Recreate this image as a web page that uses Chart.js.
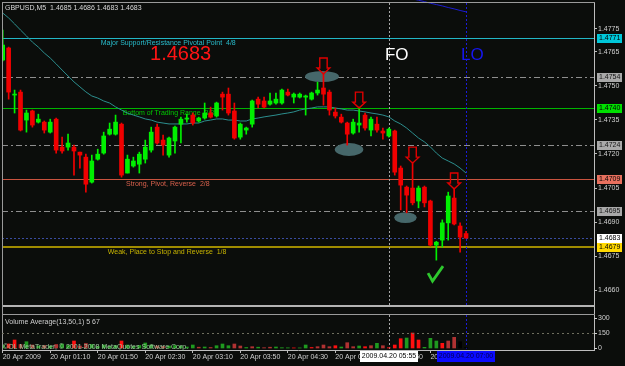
<!DOCTYPE html>
<html><head><meta charset="utf-8">
<script src="https://cdn.jsdelivr.net/npm/chart.js@4.4.1/dist/chart.umd.min.js"></script>
<style>html,body{margin:0;padding:0;background:#0b0d0b;}canvas{display:block;}</style>
</head><body>
<canvas id="c" width="625" height="366"></canvas>
<script>
// ---------------- data ----------------
const chartTitle = "GBPUSD,M5  1.4685 1.4686 1.4683 1.4683";
const volumeTitle = "Volume Average(13,50,1) 5 67";
const copyrightText = "\u00A9OL MetaTrader, \u00A9 2001-2008 MetaQuotes Software Corp.";

const timeTickBars = [0, 8, 16, 24, 32, 40, 48, 56, 64, 72];
const timeTickLabels = ["20 Apr 2009","20 Apr 01:10","20 Apr 01:50","20 Apr 02:30","20 Apr 03:10",
  "20 Apr 03:50","20 Apr 04:30","20 Apr 05:10","20 Apr 05:50","20 Apr 06:30"];
const priceTicks = [1.4775, 1.4765, 1.4750, 1.4735, 1.4720, 1.4705, 1.4690, 1.4675, 1.4660];
const volumeTicks = [0, 150, 300];

const opens = [1.47613,1.47666,1.47459,1.47472,1.47349,1.47389,1.47340,1.47340,1.47296,1.47353,
 1.47230,1.47230,1.47230,1.47208,1.47186,1.47076,1.47177,1.47204,1.47287,1.47287,
 1.47331,1.47116,1.47147,1.47155,1.47177,1.47217,1.47318,1.47261,1.47195,1.47257,
 1.47331,1.47353,1.47371,1.47345,1.47358,1.47380,1.47367,1.47463,1.47463,1.47389,
 1.47274,1.47305,1.47331,1.47441,1.47433,1.47419,1.47424,1.47424,1.47472,1.47450,
 1.47450,1.47450,1.47441,1.47468,1.47490,1.47472,1.47384,1.47362,1.47336,1.47292,
 1.47327,1.47371,1.47305,1.47331,1.47301,1.47279,1.47301,1.47138,1.47054,1.47050,
 1.46993,1.47054,1.46993,1.46799,1.46821,1.46897,1.47006,1.46883,1.46850];
const highs = [1.47745,1.47670,1.47481,1.47481,1.47393,1.47393,1.47375,1.47345,1.47353,1.47358,
 1.47274,1.47287,1.47239,1.47208,1.47199,1.47195,1.47221,1.47296,1.47336,1.47371,
 1.47336,1.47195,1.47186,1.47208,1.47261,1.47318,1.47331,1.47283,1.47274,1.47323,
 1.47362,1.47375,1.47380,1.47362,1.47424,1.47406,1.47428,1.47472,1.47490,1.47424,
 1.47336,1.47318,1.47437,1.47450,1.47450,1.47468,1.47468,1.47485,1.47485,1.47468,
 1.47468,1.47459,1.47472,1.47516,1.47556,1.47481,1.47402,1.47375,1.47340,1.47353,
 1.47406,1.47380,1.47362,1.47362,1.47314,1.47314,1.47305,1.47147,1.47059,1.47164,
 1.47059,1.47059,1.46997,1.46816,1.46910,1.47032,1.47050,1.46897,1.46860];
const lows = [1.47609,1.47441,1.47380,1.47301,1.47296,1.47318,1.47336,1.47292,1.47292,1.47204,
 1.47204,1.47217,1.47107,1.47138,1.47032,1.47072,1.47173,1.47199,1.47283,1.47283,
 1.47098,1.47116,1.47142,1.47116,1.47160,1.47208,1.47243,1.47195,1.47186,1.47204,
 1.47248,1.47340,1.47327,1.47340,1.47353,1.47358,1.47362,1.47393,1.47371,1.47265,
 1.47265,1.47287,1.47318,1.47402,1.47402,1.47415,1.47419,1.47419,1.47455,1.47424,
 1.47446,1.47371,1.47437,1.47459,1.47415,1.47371,1.47358,1.47336,1.47239,1.47287,
 1.47296,1.47305,1.47279,1.47296,1.47265,1.47274,1.47107,1.46954,1.46941,1.46976,
 1.46963,1.46967,1.46795,1.46733,1.46790,1.46821,1.46888,1.46768,1.46830];
const closes = [1.47679,1.47472,1.47463,1.47305,1.47380,1.47327,1.47353,1.47305,1.47340,1.47217,
 1.47213,1.47248,1.47213,1.47195,1.47067,1.47169,1.47199,1.47279,1.47309,1.47340,
 1.47107,1.47177,1.47169,1.47199,1.47230,1.47296,1.47248,1.47239,1.47270,1.47318,
 1.47353,1.47358,1.47336,1.47358,1.47380,1.47362,1.47424,1.47450,1.47380,1.47270,
 1.47331,1.47314,1.47433,1.47419,1.47406,1.47433,1.47441,1.47481,1.47459,1.47463,
 1.47463,1.47455,1.47468,1.47481,1.47463,1.47393,1.47367,1.47340,1.47287,1.47340,
 1.47336,1.47314,1.47353,1.47305,1.47292,1.47309,1.47120,1.47063,1.47019,1.46985,
 1.47050,1.46985,1.46799,1.46812,1.46897,1.47015,1.46892,1.46834,1.46830];

const maValues = [1.47820,1.47798,1.47772,1.47745,1.47719,1.47692,1.47670,1.47644,1.47622,1.47596,
 1.47569,1.47543,1.47517,1.47495,1.47473,1.47455,1.47446,1.47433,1.47424,1.47407,
 1.47393,1.47380,1.47371,1.47363,1.47354,1.47349,1.47340,1.47336,1.47332,1.47332,
 1.47332,1.47332,1.47336,1.47336,1.47345,1.47349,1.47354,1.47354,1.47349,1.47349,
 1.47345,1.47345,1.47354,1.47358,1.47363,1.47367,1.47371,1.47376,1.47380,1.47385,
 1.47393,1.47398,1.47402,1.47407,1.47407,1.47407,1.47402,1.47398,1.47393,1.47393,
 1.47389,1.47385,1.47380,1.47376,1.47371,1.47363,1.47345,1.47332,1.47314,1.47292,
 1.47270,1.47253,1.47231,1.47204,1.47182,1.47169,1.47156,1.47138,1.47116];
const slowMaBars = [69, 70, 71, 72, 73, 74, 75, 76, 77, 78];
const slowMaValues = [1.47882,1.47876,1.47870,1.47863,1.47857,1.47851,1.47844,1.47838,1.47831,1.47825];

const volumes = [30,40,80,35,63,30,20,25,20,35,40,25,70,20,45,35,15,30,15,25,
 70,30,15,25,50,30,20,15,20,25,20,10,30,8,10,5,23,40,23,40,
 20,5,13,8,3,8,10,3,2,1,1,30,5,13,30,13,23,10,53,13,
 20,13,23,47,23,3,30,93,100,150,80,7,97,70,47,70,107,63,5];
const volumeTone = "gRRrgrgrgrggRrrgggggRggggg" + "rrgggggrgrgggrrgrgrrgggRggRrrrRgrrgRrgrRRRgRRgggRrr";

const levelPrices = [1.4771, 1.4754, 1.4740, 1.4724, 1.4709, 1.4695, 1.4683, 1.4679];
const captionTexts = ["Major Support/Resistance Pivotal Point  4/8", "Bottom of Trading Range  3/8",
  "Strong, Pivot, Reverse  2/8", "Weak, Place to Stop and Reverse  1/8"];
const captionBars = [16.5, 20.2, 20.75, 17.7];
const captionPrices = [1.4771, 1.4740, 1.4709, 1.4679];

const vlineBars = [65, 78];
const vlineLabels = ["2009.04.20 05:55", "2009.04.20 07:00"];
const arrowBars = [54, 60, 69, 76];
const ellipseBars = [[50.9, 56.6], [55.9, 60.7], [65.9, 69.7]];
const ellipsePrices = [[1.47565, 1.47516], [1.47248, 1.47191], [1.46944, 1.46896]];
const bigTexts = ["1.4683", "FO", "LO"];
const bigTextBars = [24.8, 64.35, 77.15];
const bigTextPrices = [1.47613, 1.47613, 1.47613];
const checkBar = 71.6, checkPrice = 1.46676;
const mainPanelMin = 1.46532, volPanelMax = 340;

// ---------------- styles ----------------
const BG = '#0b0d0b';
const FONT = "'Liberation Sans', Arial, sans-serif";
const BULL = '#00f000', BEAR = '#f00000';
const toneColors = { g: '#1f9a1f', R: '#ff1010', r: '#b03232' };
const levelStyles = [
  { color: '#22b6c6', width: 1, dash: [], box: '#00c8da', text: '#000' },
  { color: '#8e8e8e', width: 1, dash: [6,3,2,3], box: '#a9a9a9', text: '#151515' },
  { color: '#00b400', width: 1, dash: [], box: '#00e000', text: '#000' },
  { color: '#8e8e8e', width: 1, dash: [6,3,2,3], box: '#a9a9a9', text: '#151515' },
  { color: '#c9533f', width: 1, dash: [], box: '#e8705e', text: '#000' },
  { color: '#8e8e8e', width: 1, dash: [6,3,2,3], box: '#a9a9a9', text: '#151515' },
  { color: '#3a4ca0', width: 1, dash: [2,2], box: '#ffffff', text: '#000' },
  { color: '#a08c00', width: 2, dash: [], box: '#ffd800', text: '#000' }
];
const captionColors = ['#28bccc', '#00c800', '#d8604c', '#c8b400'];
const vlineStyles = [{ color: '#a8a8a8', box: '#ffffff', text: '#000' }, { color: '#1c1cd8', box: '#0a0aff', text: '#000050' }];
const bigTextStyles = [{ color: '#ff1414', size: 20 }, { color: '#ffffff', size: 17 }, { color: '#1616f0', size: 17 }];

// ---------------- datasets ----------------
const idx = opens.map((_, i) => i);
const bull = idx.map(i => closes[i] >= opens[i]);
const bodyData = idx.map(i => ({ x: i, y: [opens[i], closes[i]] }));
const wickData = idx.map(i => ({ x: i, y: [lows[i], highs[i]] }));
const maData = idx.map(i => ({ x: i, y: maValues[i] }));
const slowData = slowMaBars.map((b, k) => ({ x: b, y: slowMaValues[k] }));
const volData = idx.map(i => ({ x: i, y: volumes[i] }));

Chart.defaults.font.family = FONT;

const mt4Plugin = {
  id: 'mt4',
  beforeDraw(chart) {
    const c = chart.ctx;
    c.save(); c.fillStyle = BG; c.fillRect(0, 0, chart.width, chart.height); c.restore();
  },
  beforeDatasetsDraw(chart) {
    const c = chart.ctx, ca = chart.chartArea, X = chart.scales.x, Y = chart.scales.y;
    c.save();
    levelPrices.forEach((p, i) => {
      const s = levelStyles[i];
      let py = Math.round(Y.getPixelForValue(p));
      if (s.width % 2 === 1) py += 0.5;
      c.strokeStyle = s.color; c.lineWidth = s.width; c.setLineDash(s.dash);
      c.beginPath(); c.moveTo(ca.left, py); c.lineTo(ca.right, py); c.stroke();
    });
    vlineBars.forEach((b, i) => {
      const px = Math.round(X.getPixelForValue(b)) + 0.5;
      c.strokeStyle = vlineStyles[i].color; c.lineWidth = 1; c.setLineDash([2, 2]);
      c.beginPath(); c.moveTo(px, ca.top); c.lineTo(px, ca.bottom); c.stroke();
    });
    c.setLineDash([]);
    c.fillStyle = '#46676a';
    ellipseBars.forEach((eb, i) => {
      const x1 = X.getPixelForValue(eb[0]), x2 = X.getPixelForValue(eb[1]);
      const y1 = Y.getPixelForValue(ellipsePrices[i][0]), y2 = Y.getPixelForValue(ellipsePrices[i][1]);
      c.beginPath();
      c.ellipse((x1 + x2) / 2, (y1 + y2) / 2, Math.abs(x2 - x1) / 2, Math.abs(y2 - y1) / 2, 0, 0, Math.PI * 2);
      c.fill();
    });
    c.font = '7px ' + FONT; c.textBaseline = 'top'; c.textAlign = 'left';
    captionTexts.forEach((t, i) => {
      c.fillStyle = captionColors[i];
      c.fillText(t, X.getPixelForValue(captionBars[i]), Y.getPixelForValue(captionPrices[i]) + 1.5);
    });
    c.restore();
  },
  afterDatasetsDraw(chart) {
    const c = chart.ctx, X = chart.scales.x, Y = chart.scales.y;
    c.save();
    c.strokeStyle = '#e00000'; c.lineWidth = 1.4;
    arrowBars.forEach(b => {
      const cx = X.getPixelForValue(b), tip = Y.getPixelForValue(highs[b]) + 1;
      const sw = 3.7, hw = 6.3, sh = 10, hh = 6;
      c.beginPath();
      c.moveTo(cx - sw, tip - sh - hh); c.lineTo(cx + sw, tip - sh - hh);
      c.lineTo(cx + sw, tip - hh); c.lineTo(cx + hw, tip - hh);
      c.lineTo(cx, tip); c.lineTo(cx - hw, tip - hh);
      c.lineTo(cx - sw, tip - hh); c.closePath(); c.stroke();
    });
    const kx = X.getPixelForValue(checkBar), ky = Y.getPixelForValue(checkPrice);
    c.strokeStyle = '#2ec82e'; c.lineWidth = 2.8; c.lineJoin = 'miter';
    c.beginPath(); c.moveTo(kx, ky); c.lineTo(kx + 4.5, ky + 8); c.lineTo(kx + 15, ky - 7); c.stroke();
    c.textBaseline = 'alphabetic'; c.textAlign = 'left';
    bigTexts.forEach((t, i) => {
      c.font = bigTextStyles[i].size + 'px ' + FONT; c.fillStyle = bigTextStyles[i].color;
      c.fillText(t, X.getPixelForValue(bigTextBars[i]), Y.getPixelForValue(bigTextPrices[i]));
    });
    c.restore();
  },
  afterDraw(chart) {
    const c = chart.ctx, ca = chart.chartArea, X = chart.scales.x, Y = chart.scales.y, V = chart.scales.yv;
    c.save();
    const mainBottom = Math.round(Y.getPixelForValue(mainPanelMin));
    const volTop = Math.round(V.getPixelForValue(volPanelMax));
    c.fillStyle = BG; c.fillRect(ca.left, mainBottom, ca.right - ca.left, volTop - mainBottom);
    c.fillStyle = '#b4b4b4'; c.fillRect(ca.left, mainBottom - 1, ca.right - ca.left + 1, 2);
    c.fillStyle = '#9a9a9a'; c.fillRect(ca.left, volTop, ca.right - ca.left + 1, 1);
    c.fillStyle = '#9a9a9a'; c.fillRect(ca.left, ca.top - 1, ca.right - ca.left + 1, 1);
    c.fillRect(ca.left, ca.top - 1, 1, ca.bottom - ca.top + 1);
    const lv = Math.round(V.getPixelForValue(150)) + 0.5;
    c.strokeStyle = '#6e6e5e'; c.lineWidth = 1; c.setLineDash([2, 3]);
    c.beginPath(); c.moveTo(ca.left, lv); c.lineTo(ca.right, lv); c.stroke(); c.setLineDash([]);
    c.font = '7px ' + FONT; c.textAlign = 'left'; c.textBaseline = 'middle';
    c.fillStyle = '#d8d8d8'; c.fillText(chartTitle, ca.left + 3, ca.top + 5);
    c.fillStyle = '#cfcfcf'; c.fillText(volumeTitle, ca.left + 3, volTop + 8);
    c.fillStyle = '#9cc49c'; c.fillText(copyrightText, ca.left + 1, ca.bottom - 3);
    c.fillStyle = '#d0d0d0';
    volumeTicks.forEach(v => {
      const py = V.getPixelForValue(v);
      c.fillText(String(v), ca.right + 4, py);
      c.fillRect(ca.right, Math.round(py), 3, 1);
    });
    levelPrices.forEach((p, i) => {
      const s = levelStyles[i], py = Y.getPixelForValue(p);
      c.fillStyle = s.box; c.fillRect(ca.right + 3, Math.round(py) - 4, 25, 9);
      c.fillStyle = s.text; c.fillText(p.toFixed(4), ca.right + 5, Math.round(py) + 0.5);
    });
    c.textAlign = 'center';
    vlineBars.forEach((b, i) => {
      const px = X.getPixelForValue(b);
      c.fillStyle = vlineStyles[i].box; c.fillRect(Math.round(px) - 29, ca.bottom + 1, 58, 11);
      c.fillStyle = vlineStyles[i].text; c.fillText(vlineLabels[i], Math.round(px), ca.bottom + 6.5);
    });
    c.restore();
  }
};

new Chart(document.getElementById('c'), {
  type: 'bar',
  data: {
    datasets: [
      { type: 'line', data: maData, borderColor: '#2c8e8e', borderWidth: 1, pointRadius: 0, tension: 0, yAxisID: 'y', order: 3 },
      { type: 'line', data: slowData, borderColor: '#1c1cd0', borderWidth: 1, pointRadius: 0, tension: 0, yAxisID: 'y', clip: false, order: 3 },
      { data: volData, yAxisID: 'yv', grouped: false, barThickness: 3,
        backgroundColor: idx.map(i => toneColors[volumeTone[i]]), order: 2 },
      { data: wickData, yAxisID: 'y', grouped: false, barThickness: 1,
        backgroundColor: idx.map(i => bull[i] ? BULL : BEAR), order: 1 },
      { data: bodyData, yAxisID: 'y', grouped: false, barThickness: 4, minBarLength: 1,
        backgroundColor: idx.map(i => bull[i] ? BULL : BEAR), order: 0 }
    ]
  },
  options: {
    responsive: false, maintainAspectRatio: false, animation: false, events: [],
    layout: { padding: { left: 2, top: 3, right: 0, bottom: 0 } },
    plugins: { legend: { display: false }, tooltip: { enabled: false } },
    scales: {
      x: {
        type: 'linear', min: -0.118, max: 99.54, offset: false,
        afterBuildTicks: s => { s.ticks = timeTickBars.map(v => ({ value: v })); },
        afterFit: s => { s.height = 16; s.paddingLeft = 0; s.paddingRight = 0; },
        ticks: {
          autoSkip: false, maxRotation: 0, minRotation: 0, align: 'start', padding: 0,
          color: '#d0d0d0', font: { size: 7, family: FONT },
          callback: v => { const k = timeTickBars.indexOf(v); return k >= 0 ? timeTickLabels[k] : ''; }
        },
        grid: { offset: false, drawOnChartArea: false, drawTicks: true, tickLength: 3, color: '#bdbdbd' },
        border: { display: true, color: '#bdbdbd' }
      },
      y: {
        type: 'linear', position: 'right', min: 1.463378, max: 1.478639,
        afterBuildTicks: s => { s.ticks = priceTicks.map(v => ({ value: v })); },
        afterFit: s => { s.width = 31; s.paddingTop = 0; s.paddingBottom = 0; },
        ticks: { color: '#d0d0d0', font: { size: 7, family: FONT }, padding: 1,
          callback: v => Number(v).toFixed(4) },
        grid: { drawOnChartArea: false, drawTicks: true, tickLength: 3, color: '#bdbdbd' },
        border: { display: true, color: '#bdbdbd' }
      },
      yv: { type: 'linear', display: false, min: -20, max: 3450 }
    }
  },
  plugins: [mt4Plugin]
});
</script>
</body></html>
